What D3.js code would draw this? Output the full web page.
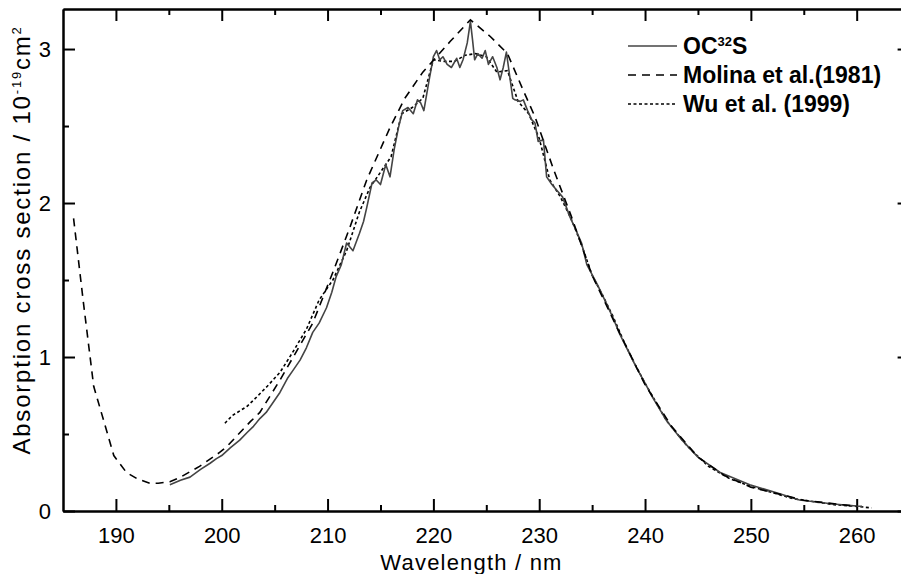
<!DOCTYPE html>
<html>
<head>
<meta charset="utf-8">
<script src="https://cdn.jsdelivr.net/npm/d3@7"></script>
<style>
  html, body { margin: 0; padding: 0; background: #fff; }
  svg { display: block; }
  text { font-family: "Liberation Sans", Arial, Helvetica, sans-serif; fill: #000; }
</style>
</head>
<body>
<svg id="chart" width="901" height="574"></svg>
<script>
// ---- data ----
const molinaWl = [186.0, 186.9, 187.9, 189.0, 189.8, 191.0, 192.0, 193.2, 194.0, 195.1, 196.1, 197.9, 199.8, 200.5, 202.7, 203.6, 205.5, 208.6, 210.5, 212.1, 213.7, 215.9, 217.3, 219.0, 221.6, 223.5, 225.4, 227.0, 228.5, 229.6, 231.4, 233.0, 235.0, 237.5, 240.0, 242.5, 245.0, 247.5, 250.0, 255.0, 260.0];
const molinaVal = [1.90, 1.37, 0.81, 0.55, 0.36, 0.25, 0.21, 0.18, 0.18, 0.19, 0.22, 0.29, 0.38, 0.42, 0.58, 0.64, 0.85, 1.22, 1.55, 1.84, 2.15, 2.49, 2.68, 2.85, 3.05, 3.19, 3.08, 2.97, 2.73, 2.56, 2.21, 1.92, 1.53, 1.17, 0.82, 0.55, 0.35, 0.23, 0.155, 0.07, 0.03];

const ocsWl = [195.1, 196.1, 197.0, 198.0, 198.9, 199.5, 200.0, 200.8, 201.7, 202.4, 203.0, 203.6, 204.2, 204.8, 205.5, 206.2, 206.8, 207.4, 208.0, 208.6, 209.2, 209.9, 210.4, 210.8, 211.3, 211.8, 212.4, 213.0, 213.4, 213.7, 214.2, 214.6, 215.0, 215.5, 215.9, 216.3, 216.7, 217.1, 217.6, 218.1, 218.5, 218.8, 219.1, 219.6, 220.0, 220.3, 220.6, 220.9, 221.3, 221.7, 222.2, 222.5, 222.8, 223.2, 223.5, 223.7, 223.9, 224.2, 224.6, 224.9, 225.2, 225.6, 226.0, 226.3, 226.6, 226.9, 227.1, 227.5, 227.7, 228.2, 228.5, 228.9, 229.3, 229.6, 229.9, 230.4, 230.7, 231.2, 231.7, 232.2, 232.9, 233.5, 234.0, 234.5, 235.5, 236.4, 237.0, 237.6, 238.4, 239.2, 240.0, 240.7, 242.0, 243.5, 245.0, 247.1, 249.9, 252.5, 254.6, 257.8, 260.0, 260.5];
const ocsVal = [0.17, 0.20, 0.22, 0.27, 0.31, 0.34, 0.36, 0.41, 0.46, 0.51, 0.55, 0.60, 0.64, 0.70, 0.77, 0.86, 0.92, 0.98, 1.06, 1.16, 1.22, 1.32, 1.42, 1.52, 1.60, 1.74, 1.69, 1.80, 1.88, 1.97, 2.13, 2.15, 2.12, 2.25, 2.17, 2.35, 2.49, 2.60, 2.62, 2.58, 2.67, 2.65, 2.60, 2.80, 2.95, 2.99, 2.93, 2.95, 2.90, 2.88, 2.94, 2.88, 2.93, 3.04, 3.18, 3.06, 2.93, 2.97, 2.94, 2.99, 2.90, 2.95, 2.88, 2.80, 2.88, 2.98, 2.88, 2.68, 2.67, 2.66, 2.67, 2.60, 2.54, 2.52, 2.40, 2.41, 2.17, 2.12, 2.08, 2.04, 1.91, 1.82, 1.74, 1.60, 1.47, 1.34, 1.25, 1.15, 1.04, 0.93, 0.83, 0.74, 0.59, 0.46, 0.35, 0.25, 0.17, 0.117, 0.071, 0.045, 0.032, 0.030];

const wuWl = [200.3, 201.0, 202.4, 203.3, 204.3, 205.5, 206.7, 208.0, 209.2, 210.5, 211.8, 213.0, 214.0, 215.0, 216.0, 217.0, 218.0, 219.0, 220.0, 221.0, 222.0, 223.0, 224.0, 225.0, 226.0, 227.0, 228.0, 229.0, 230.0, 231.0, 232.0, 233.0, 234.0, 235.0, 236.0, 237.0, 238.0, 239.0, 240.0, 242.0, 244.0, 246.0, 248.0, 250.0, 252.0, 254.0, 256.0, 258.0, 260.0, 261.4];
const wuVal = [0.57, 0.62, 0.68, 0.74, 0.81, 0.90, 1.03, 1.18, 1.37, 1.50, 1.69, 1.94, 2.10, 2.20, 2.30, 2.58, 2.62, 2.68, 2.93, 2.92, 2.92, 2.96, 2.97, 2.95, 2.85, 2.86, 2.66, 2.58, 2.42, 2.15, 2.04, 1.90, 1.73, 1.53, 1.40, 1.26, 1.10, 0.96, 0.83, 0.59, 0.42, 0.29, 0.21, 0.16, 0.12, 0.08, 0.06, 0.04, 0.03, 0.02];

const xMajorTicks = [190, 200, 210, 220, 230, 240, 250, 260];
const xMinorTicks = [195, 205, 215, 225, 235, 245, 255];
const yMajorTicks = [0, 1, 2, 3];
const yMinorTicks = [0.5, 1.5, 2.5];
const legendLabels = ["OC", "Molina et al.(1981)", "Wu et al. (1999)"];

// ---- layout ----
const svg = d3.select("#chart");
const L = 63, R = 909.6, T = 9, B = 511;
const x = d3.scaleLinear().domain([185, 265]).range([L, R]);
const y = d3.scaleLinear().domain([0, 3.26]).range([B, T]);
const font = '"Liberation Sans", Arial, Helvetica, sans-serif';

function styleAxis(g) {
  g.selectAll("path.domain").attr("stroke", "#000").attr("stroke-width", 2);
  g.selectAll(".tick line").attr("stroke", "#000").attr("stroke-width", 2);
  g.selectAll(".tick text").attr("font-family", font).attr("font-size", 22).attr("fill", "#000");
}

// bottom
svg.append("g").attr("transform", `translate(0,${B})`)
  .call(d3.axisBottom(x).tickValues(xMajorTicks).tickSize(-12).tickSizeOuter(0).tickPadding(16).tickFormat(d3.format("d")))
  .call(styleAxis);
svg.append("g").attr("transform", `translate(0,${B})`)
  .call(d3.axisBottom(x).tickValues(xMinorTicks).tickSize(-6).tickSizeOuter(0).tickFormat(""))
  .call(styleAxis);
// top
svg.append("g").attr("transform", `translate(0,${T})`)
  .call(d3.axisTop(x).tickValues(xMajorTicks).tickSize(-12).tickSizeOuter(0).tickFormat(""))
  .call(styleAxis);
svg.append("g").attr("transform", `translate(0,${T})`)
  .call(d3.axisTop(x).tickValues(xMinorTicks).tickSize(-6).tickSizeOuter(0).tickFormat(""))
  .call(styleAxis);
// left
svg.append("g").attr("transform", `translate(${L},0)`)
  .call(d3.axisLeft(y).tickValues(yMajorTicks).tickSize(-12).tickSizeOuter(0).tickPadding(12).tickFormat(d3.format("d")))
  .call(styleAxis);
svg.append("g").attr("transform", `translate(${L},0)`)
  .call(d3.axisLeft(y).tickValues(yMinorTicks).tickSize(-6).tickSizeOuter(0).tickFormat(""))
  .call(styleAxis);
// right
svg.append("g").attr("transform", `translate(${R},0)`)
  .call(d3.axisRight(y).tickValues(yMajorTicks).tickSize(-12).tickSizeOuter(0).tickFormat(""))
  .call(styleAxis);

// ---- lines ----
const line = d3.line().x(d => x(d[0])).y(d => y(d[1]));
const molina = molinaWl.map((w, i) => [w, molinaVal[i]]);
const ocs = ocsWl.map((w, i) => [w, ocsVal[i]]);
const wu = wuWl.map((w, i) => [w, wuVal[i]]);

svg.append("path").datum(wu).attr("d", line)
  .attr("fill", "none").attr("stroke", "#000").attr("stroke-width", 1.6).attr("stroke-dasharray", "3,2.5");
svg.append("path").datum(ocs).attr("d", line)
  .attr("fill", "none").attr("stroke", "#444").attr("stroke-width", 1.6).attr("stroke-linejoin", "round");
svg.append("path").datum(molina).attr("d", line)
  .attr("fill", "none").attr("stroke", "#000").attr("stroke-width", 1.6).attr("stroke-dasharray", "8,6");

// ---- legend ----
const legY = [46, 75, 104];
const legStyles = [
  { stroke: "#444", dash: null },
  { stroke: "#000", dash: "8,6" },
  { stroke: "#000", dash: "3,2.5" }
];
legendLabels.forEach((lab, i) => {
  svg.append("line").attr("x1", 628).attr("x2", 677).attr("y1", legY[i]).attr("y2", legY[i])
    .attr("stroke", legStyles[i].stroke).attr("stroke-width", 1.6)
    .attr("stroke-dasharray", legStyles[i].dash);
  const t = svg.append("text").attr("x", 683).attr("y", legY[i] + 8)
    .attr("font-size", 23).attr("font-weight", "bold");
  t.append("tspan").text(lab);
  if (i === 0) {
    t.append("tspan").attr("font-size", 13).attr("dy", -8).text("32");
    t.append("tspan").attr("dy", 8).text("S");
  }
});

// ---- axis titles ----
svg.append("text").attr("x", (L + 880) / 2).attr("y", 570)
  .attr("text-anchor", "middle").attr("font-size", 22).attr("letter-spacing", 1.2)
  .text("Wavelength / nm");

const yt = svg.append("text")
  .attr("transform", `translate(30,240) rotate(-90)`)
  .attr("text-anchor", "middle").attr("font-size", 24).attr("letter-spacing", 1.8);
yt.append("tspan").text("Absorption cross section / 10");
yt.append("tspan").attr("font-size", 13).attr("dy", -9).text("-19");
yt.append("tspan").attr("dy", 9).text("cm");
yt.append("tspan").attr("font-size", 13).attr("dy", -9).text("2");
</script>
</body>
</html>
